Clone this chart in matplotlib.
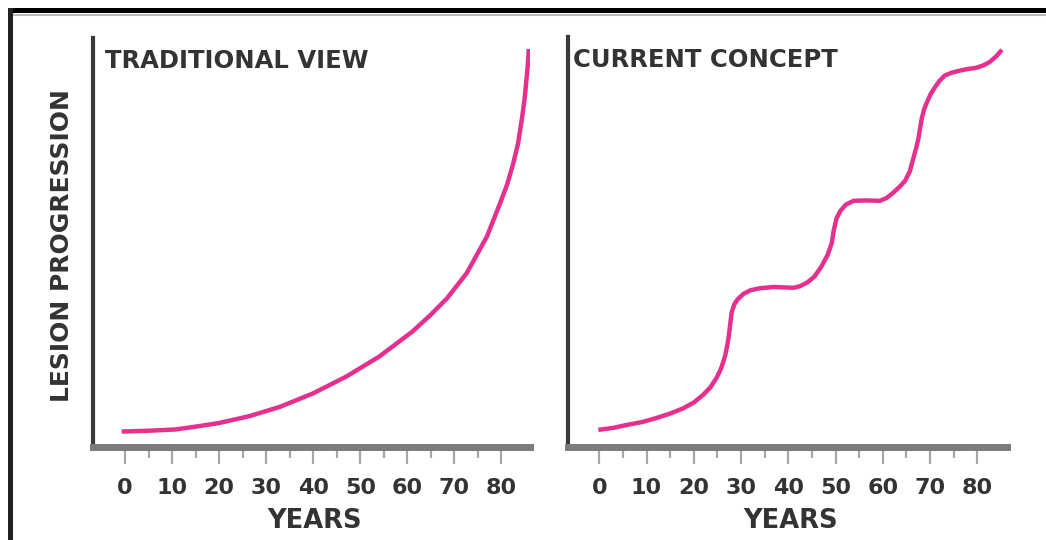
import numpy as np
import matplotlib
matplotlib.use('Agg')
import matplotlib.pyplot as plt
from matplotlib.lines import Line2D

# Values (years vs. lesion progression, 0-100 scale)
trad_years = [-0.7, 5, 10.6, 15, 20, 26.5, 33, 40, 47, 54, 61, 64.7, 68.4, 72.6, 76.9, 79.7,
              81.2, 82.5, 83.5, 84.3, 84.9, 85.3, 85.6, 85.8]
trad_level = [3.8, 4.0, 4.3, 5.0, 5.9, 7.6, 9.9, 13.2, 17.3, 22.2, 28.3, 32.2, 36.5, 42.7, 51.7, 59.9,
              64.5, 69.7, 74.5, 80.3, 85.5, 90.2, 94.0, 97.8]

curr_years = [-0.2, 3, 5.8, 9, 12.1, 15, 17.8, 20, 22.0, 23.5, 24.8, 25.8, 26.6, 27.1, 27.4, 27.7,
              28.0, 28.6, 29.3, 30.5, 32.0, 34.0, 36.9, 39.0, 41.1, 42.5, 44.0, 45.5, 47.0, 48.3,
              49.2, 49.6, 50.2, 51.0, 52.2, 53.8, 56.5, 59.4, 60.8, 62.2, 63.6, 64.7, 65.7, 66.4,
              67.0, 67.5, 68.2, 68.7, 69.3, 70.1, 71.0, 72.0, 73.1, 74.6, 76.3, 78.0, 79.8, 81.3,
              82.6, 84.0, 85.2]
curr_level = [4.2, 4.7, 5.4, 6.1, 7.1, 8.2, 9.5, 10.9, 12.8, 14.6, 16.9, 19.3, 22.2, 25.0, 27.1, 30.0,
              32.9, 35.0, 36.2, 37.5, 38.4, 38.9, 39.2, 39.1, 39.0, 39.4, 40.3, 41.7, 44.2, 47.0,
              50.0, 53.0, 56.0, 57.8, 59.4, 60.3, 60.4, 60.3, 61.0, 62.3, 63.8, 65.2, 67.5, 70.5,
              73.0, 75.4, 80.3, 82.6, 84.4, 86.4, 88.1, 89.7, 91.0, 91.7, 92.2, 92.6, 92.9, 93.5,
              94.3, 95.7, 97.3]

major_ticks = [0, 10, 20, 30, 40, 50, 60, 70, 80]
minor_ticks = [5, 15, 25, 35, 45, 55, 65, 75]
titles = ['TRADITIONAL VIEW', 'CURRENT CONCEPT']

pink = '#e6308e'
txt = '#333333'

fig = plt.figure(figsize=(10.46, 5.4), dpi=100)

ax1 = fig.add_axes([0.0889, 0.1722, 0.4178, 0.7574])
ax2 = fig.add_axes([0.5430, 0.1722, 0.4194, 0.7598])

ax1.plot(trad_years, trad_level, color=pink, lw=3.2, solid_joinstyle='round', solid_capstyle='butt')
ax2.plot(curr_years, curr_level, color=pink, lw=3.2, solid_joinstyle='round', solid_capstyle='butt')

ax1.set_xlim(-6.8, 86.06)
ax2.set_xlim(-6.62, 86.2)

for ax, title, tx in [(ax1, titles[0], 0.0275), (ax2, titles[1], 0.0114)]:
    ax.set_ylim(0, 100.5)
    ax.set_xticks(major_ticks)
    ax.set_xticks(minor_ticks, minor=True)
    ax.set_yticks([])
    ax.tick_params(axis='x', which='major', length=12, width=1.6, color='#a8a8a8', pad=10.5,
                   labelsize=16, labelcolor=txt)
    ax.tick_params(axis='x', which='minor', length=8, width=1.6, color='#a8a8a8')
    for lab in ax.get_xticklabels():
        lab.set_fontweight('bold')
    ax.spines['top'].set_visible(False)
    ax.spines['right'].set_visible(False)
    ax.spines['left'].set_color('#3a3a3a')
    ax.spines['left'].set_linewidth(3)
    ax.spines['bottom'].set_color('#7b7b7b')
    ax.spines['bottom'].set_linewidth(5)
    ax.text(tx, 0.943, title, transform=ax.transAxes, ha='left', va='center',
            fontsize=17.5, fontweight='bold', color=txt)

fig.text(0.3007, 0.0352, 'YEARS', ha='center', va='center', fontsize=18.5, fontweight='bold', color=txt)
fig.text(0.7562, 0.0352, 'YEARS', ha='center', va='center', fontsize=18.5, fontweight='bold', color=txt)
fig.text(0.0593, 0.546, 'LESION PROGRESSION', rotation=90, ha='center', va='center',
         fontsize=18, fontweight='bold', color=txt)

# outer frame: top and left border
fig.add_artist(Line2D([0.0096, 1.0], [0.9806, 0.9806], color='black', lw=3.6))
fig.add_artist(Line2D([0.0096, 1.0], [0.9722, 0.9722], color='#bbbbbb', lw=1.5))
fig.add_artist(Line2D([0.0100, 0.0100], [0.0, 0.9806], color='#222222', lw=3.6))

fig.savefig('out.png', dpi=100)
